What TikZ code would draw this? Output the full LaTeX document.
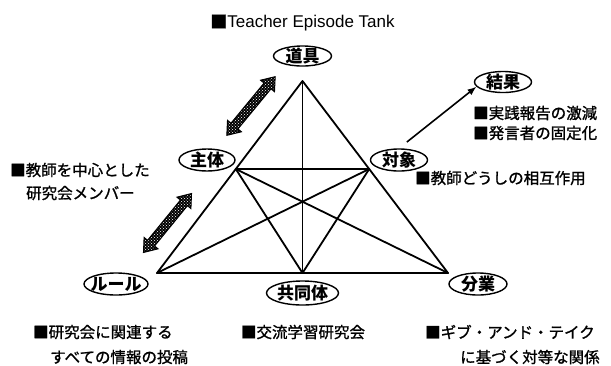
\documentclass[tikz,border=0pt]{standalone}
\usepackage{fontspec}
\newfontfamily\jp{Noto Sans CJK JP}
\newfontfamily\jpm{Noto Sans CJK JP}[FakeBold=1.2]
\newfontfamily\lat{Liberation Sans}
\usetikzlibrary{shapes.geometric,patterns,arrows.meta}
\newcommand\lb[1]{\makebox[0pt]{\raisebox{-0.36em}[0pt][0pt]{#1}}}
\begin{document}
\begin{tikzpicture}[x=1pt,y=-1pt,
  tri/.style={line width=1.8pt, line cap=round, line join=round},
  lab/.style={ellipse, draw, line width=1.4pt, inner sep=0pt,
    font=\jp\bfseries\fontsize{17}{17}\selectfont},
  txt/.style={anchor=west, inner sep=0pt, font=\jpm\fontsize{15.5}{17}\selectfont},
  arr/.style={line width=1.6pt, -{Latex[length=9pt,width=7pt]}},
  dbl/.style={draw=black, line width=1pt, line join=miter,
    preaction={fill=black}, pattern=crosshatch dots, pattern color=white}]
\useasboundingbox (0,0) rectangle (611,365);

% triangle vertices
\coordinate (T) at (302.5,81);
\coordinate (BL) at (157,273);
\coordinate (BR) at (448,273);
\coordinate (C) at (302.5,273);
\coordinate (S) at (235.8,169);
\coordinate (O) at (369.2,169);

\draw[tri] (T) -- (BL) -- (BR) -- cycle;
\draw[tri] (T) -- (C);
\draw[tri] (S) -- (O);
\draw[tri] (S) -- (BR);
\draw[tri] (S) -- (C);
\draw[tri] (O) -- (BL);
\draw[tri] (O) -- (C);

% labels
\node[lab, minimum width=58pt, minimum height=20pt] (tool) at (302.5,56) {\lb{道具}};
\node[lab, minimum width=56pt, minimum height=22pt] (subj) at (207,160) {\lb{主体}};
\node[lab, minimum width=57pt, minimum height=22pt] (obj) at (399,160) {\lb{対象}};
\node[lab, minimum width=57pt, minimum height=21pt] (res) at (503,82) {\lb{結果}};
\node[lab, minimum width=64pt, minimum height=22pt] (rule) at (116,284) {\lb{ルール}};
\node[lab, minimum width=72pt, minimum height=24pt] (comm) at (302.5,293) {\lb{共同体}};
\node[lab, minimum width=58pt, minimum height=22pt] (div) at (478,284) {\lb{分業}};

% arrow to outcome
\draw[arr, shorten <=10pt] (obj.north) -- (res.190);

% double arrows
\begin{scope}[shift={(251,106)}, rotate=50.5]
  \path[dbl] (-38,0) -- (-26,-9) -- (-26,-4.5) -- (26,-4.5) -- (26,-9) -- (38,0)
    -- (26,9) -- (26,4.5) -- (-26,4.5) -- (-26,9) -- cycle;
\end{scope}
\begin{scope}[shift={(167.5,223)}, rotate=50.8]
  \path[dbl] (-38,0) -- (-26,-9) -- (-26,-4.5) -- (26,-4.5) -- (26,-9) -- (38,0)
    -- (26,9) -- (26,4.5) -- (-26,4.5) -- (-26,9) -- cycle;
\end{scope}

% texts
\node[anchor=center, inner sep=0pt, font=\fontsize{17}{17}\selectfont] (title) at (302.5,23) {{\jpm ■}{\lat Teacher Episode Tank}};
\node[txt] (t1) at (473,113) {■実践報告の激減};
\node[txt] (t2) at (473,133) {■発言者の固定化};
\node[txt] (t3) at (415,178) {■教師どうしの相互作用};
\node[txt] (t4) at (10,170) {■教師を中心とした};
\node[txt] (t5) at (26,193) {研究会メンバー};
\node[txt] (t6) at (33,332) {■研究会に関連する};
\node[txt] (t7) at (50,357) {すべての情報の投稿};
\node[anchor=center, inner sep=0pt, font=\jpm\fontsize{15.5}{17}\selectfont] (t8) at (303,332) {■交流学習研究会};
\node[txt] (t9) at (425,332) {■ギブ・アンド・テイク};
\node[txt] (t10) at (460,357) {に基づく対等な関係};
\end{tikzpicture}
\end{document}
